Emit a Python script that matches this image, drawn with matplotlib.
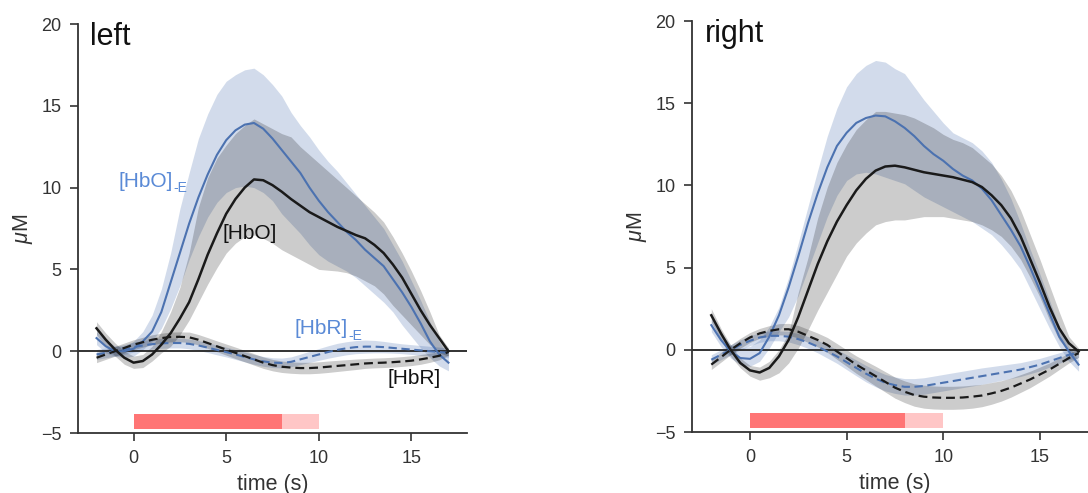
import numpy as np
import matplotlib
matplotlib.use("Agg")
import matplotlib.pyplot as plt

plt.rcParams['font.family'] = ['Liberation Sans', 'DejaVu Sans']
plt.rcParams['mathtext.fontset'] = 'custom'
plt.rcParams['mathtext.rm'] = 'Liberation Sans'
plt.rcParams['mathtext.it'] = 'Liberation Sans:italic'

# time axis (s), sampled every 0.5 s from -2 to 17
t = np.arange(-2, 17.01, 0.5)

# ---------------- LEFT hemisphere ----------------
L_hbo = [1.4, 0.7, 0.1, -0.4, -0.7, -0.6, -0.2, 0.4, 1.1, 2.0, 3.0, 4.4, 5.9, 7.2, 8.4, 9.3, 10.0, 10.5,
         10.45, 10.15, 9.75, 9.3, 8.9, 8.5, 8.2, 7.9, 7.6, 7.35, 7.1, 6.9, 6.5, 6.0, 5.3, 4.5, 3.5, 2.5, 1.6, 0.8, 0.0]
L_hbo_lo = [1.0, 0.3, -0.3, -0.8, -1.05, -1.0, -0.6, -0.1, 0.3, 1.0, 1.9, 3.0, 4.1, 5.1, 6.0, 6.6, 7.0, 7.1,
            6.9, 6.6, 6.2, 5.9, 5.6, 5.3, 5.0, 4.95, 4.9, 4.8, 4.6, 4.3, 4.0, 3.5, 2.8, 2.2, 1.6, 1.0, 0.4, -0.1, -0.3]
L_hbo_hi = [1.8, 1.1, 0.5, 0.0, -0.3, -0.2, 0.3, 1.2, 2.4, 3.9, 6.0, 8.8, 10.6, 11.8, 12.6, 13.3, 13.8, 14.2,
            13.9, 13.6, 13.3, 13.1, 12.5, 12.0, 11.5, 11.0, 10.5, 10.0, 9.5, 9.0, 8.5, 7.9, 7.0, 6.0, 4.9, 3.7, 2.4, 1.0, 0.2]
L_hboE = [0.8, 0.3, 0.0, 0.0, 0.15, 0.6, 1.2, 2.4, 4.2, 6.0, 7.8, 9.4, 10.8, 12.0, 12.9, 13.5, 13.85, 13.95,
          13.6, 13.0, 12.3, 11.6, 10.9, 10.0, 9.2, 8.5, 7.9, 7.3, 6.8, 6.2, 5.7, 5.2, 4.4, 3.6, 2.7, 1.7, 0.6, -0.2, -0.7]
L_hboE_lo = [0.4, -0.1, -0.3, -0.4, -0.3, 0.1, 0.6, 1.4, 2.6, 4.0, 5.6, 7.0, 8.2, 9.1, 9.7, 10.0, 10.1, 10.0,
             9.7, 9.2, 8.4, 7.8, 7.2, 6.5, 5.9, 5.5, 5.2, 4.9, 4.5, 4.0, 3.5, 3.0, 2.4, 1.6, 0.9, 0.2, -0.4, -0.9, -1.2]
L_hboE_hi = [1.2, 0.7, 0.3, 0.3, 0.6, 1.2, 2.2, 3.8, 6.0, 8.7, 10.9, 13.0, 14.5, 15.7, 16.5, 16.9, 17.2, 17.3,
             16.9, 16.3, 15.6, 14.6, 13.8, 13.1, 12.3, 11.6, 11.0, 10.3, 9.6, 8.9, 8.2, 7.5, 6.5, 5.5, 4.3, 3.1, 1.8, 0.6, -0.3]
L_hbr = [-0.4, -0.2, 0.0, 0.2, 0.4, 0.55, 0.7, 0.8, 0.87, 0.88, 0.85, 0.7, 0.5, 0.3, 0.1, -0.1, -0.3, -0.5,
         -0.7, -0.85, -0.95, -1.0, -1.03, -1.03, -1.0, -0.95, -0.9, -0.85, -0.8, -0.75, -0.72, -0.7, -0.67, -0.63,
         -0.58, -0.5, -0.4, -0.28, -0.05]
L_hbr_sd = [0.3, 0.3, 0.3, 0.3, 0.3, 0.3, 0.3, 0.3, 0.3, 0.3, 0.32, 0.32, 0.33, 0.33, 0.34, 0.35, 0.35, 0.35,
            0.35, 0.35, 0.35, 0.35, 0.35, 0.35, 0.35, 0.35, 0.34, 0.33, 0.32, 0.3, 0.3, 0.3, 0.3, 0.3, 0.3,
            0.3, 0.28, 0.25, 0.2]
L_hbrE = [-0.2, -0.1, 0.0, 0.1, 0.25, 0.35, 0.43, 0.48, 0.5, 0.5, 0.45, 0.35, 0.22, 0.08, -0.05, -0.2, -0.35,
          -0.5, -0.62, -0.7, -0.72, -0.65, -0.5, -0.35, -0.2, -0.05, 0.08, 0.18, 0.25, 0.28, 0.28, 0.25, 0.2,
          0.15, 0.1, 0.05, 0.0, -0.05, -0.1]
L_hbrE_sd = [0.3, 0.3, 0.3, 0.3, 0.3, 0.3, 0.3, 0.3, 0.3, 0.3, 0.3, 0.3, 0.3, 0.3, 0.3, 0.3, 0.3, 0.3,
             0.3, 0.3, 0.3, 0.3, 0.32, 0.34, 0.36, 0.38, 0.4, 0.4, 0.4, 0.4, 0.38, 0.35, 0.32, 0.3, 0.3,
             0.3, 0.3, 0.3, 0.3]

# ---------------- RIGHT hemisphere ----------------
R_hbo = [2.1, 1.0, 0.0, -0.8, -1.25, -1.38, -1.1, -0.4, 0.6, 2.0, 3.6, 5.2, 6.6, 7.8, 8.8, 9.7, 10.4, 10.9,
         11.15, 11.2, 11.1, 10.95, 10.8, 10.7, 10.6, 10.5, 10.35, 10.2, 9.9, 9.4, 8.8, 8.0, 6.9, 5.5, 4.1, 2.6,
         1.3, 0.4, -0.1]
R_hbo_lo = [1.7, 0.6, -0.4, -1.1, -1.6, -1.85, -1.7, -1.4, -0.8, 0.1, 1.2, 2.4, 3.5, 4.6, 5.7, 6.5, 7.1, 7.6,
            7.8, 7.9, 7.9, 8.0, 8.1, 8.1, 8.1, 8.0, 7.9, 7.8, 7.6, 7.3, 6.9, 6.3, 5.5, 4.4, 3.2, 1.8, 0.6, -0.1, -0.3]
R_hbo_hi = [2.5, 1.3, 0.3, -0.5, -0.95, -1.05, -0.7, 0.0, 1.0, 3.5, 5.6, 8.0, 9.9, 11.4, 12.5, 13.4, 14.0, 14.5,
            14.5, 14.4, 14.3, 14.1, 13.8, 13.5, 13.1, 12.8, 12.6, 12.3, 11.8, 11.3, 10.6, 9.7, 8.5, 7.0, 5.5, 3.9,
            2.3, 0.8, 0.1]
R_hboE = [1.5, 0.6, -0.1, -0.5, -0.55, -0.2, 0.8, 2.1, 3.8, 5.7, 7.7, 9.5, 11.1, 12.4, 13.2, 13.8, 14.1, 14.25,
          14.2, 13.9, 13.5, 13.0, 12.4, 11.9, 11.5, 11.0, 10.6, 10.3, 9.8, 9.1, 8.2, 7.3, 6.3, 5.0, 3.6, 2.2, 0.8,
          -0.1, -0.9]
R_hboE_lo = [1.1, 0.2, -0.5, -0.9, -1.0, -0.7, 0.1, 1.1, 2.0, 3.3, 4.9, 6.5, 8.1, 9.4, 10.3, 10.7, 10.8, 10.7,
             10.5, 10.3, 10.1, 9.7, 9.3, 9.0, 8.7, 8.4, 8.1, 7.8, 7.4, 7.0, 6.4, 5.7, 4.9, 3.7, 2.5, 1.3, 0.2, -0.7,
             -1.3]
R_hboE_hi = [1.9, 1.0, 0.3, 0.1, 0.2, 0.6, 1.4, 2.6, 4.4, 6.5, 8.7, 10.9, 13.0, 14.7, 16.0, 16.8, 17.3, 17.6,
             17.5, 17.1, 16.8, 16.0, 15.2, 14.5, 13.8, 13.2, 12.9, 12.6, 12.1, 11.4, 10.4, 9.2, 7.7, 6.1, 4.6, 3.0,
             1.4, 0.2, -0.6]
R_hbr = [-0.9, -0.45, 0.0, 0.4, 0.75, 1.0, 1.15, 1.25, 1.25, 1.1, 0.85, 0.6, 0.3, -0.1, -0.5, -0.9, -1.25, -1.6,
         -1.95, -2.3, -2.55, -2.75, -2.85, -2.9, -2.92, -2.92, -2.9, -2.85, -2.78, -2.65, -2.5, -2.3, -2.05, -1.8,
         -1.5, -1.2, -0.85, -0.5, -0.2]
R_hbr_sd = [0.3, 0.3, 0.3, 0.3, 0.3, 0.3, 0.32, 0.34, 0.36, 0.38, 0.4, 0.42, 0.45, 0.48, 0.5, 0.53, 0.56, 0.6,
            0.62, 0.64, 0.66, 0.68, 0.7, 0.7, 0.7, 0.7, 0.7, 0.7, 0.68, 0.66, 0.62, 0.58, 0.54, 0.5, 0.45, 0.4,
            0.35, 0.3, 0.25]
R_hbrE = [-0.6, -0.3, 0.0, 0.3, 0.55, 0.75, 0.85, 0.85, 0.8, 0.65, 0.45, 0.2, -0.1, -0.4, -0.75, -1.1, -1.45,
          -1.75, -2.0, -2.15, -2.25, -2.25, -2.2, -2.1, -2.0, -1.9, -1.8, -1.7, -1.6, -1.5, -1.4, -1.3, -1.2, -1.05,
          -0.9, -0.7, -0.5, -0.3, -0.2]
R_hbrE_sd = [0.3, 0.3, 0.3, 0.3, 0.3, 0.3, 0.3, 0.3, 0.32, 0.34, 0.36, 0.38, 0.4, 0.42, 0.45, 0.48, 0.5, 0.5,
             0.5, 0.5, 0.5, 0.5, 0.5, 0.5, 0.5, 0.5, 0.5, 0.5, 0.5, 0.48, 0.46, 0.44, 0.42, 0.4, 0.38, 0.35,
             0.32, 0.3, 0.3]

# stimulus timing (s): (start, end)
stim_on = (0, 8)
stim_post = (8, 10)

xticks = [0, 5, 10, 15]
yticks = [-5, 0, 5, 10, 15, 20]

BLUE = '#4c72b0'
BLUE_TXT = '#5a8ad6'
SPINE = '#333333'

fig = plt.figure(figsize=(10.88, 4.93), dpi=100)
axL = fig.add_axes([0.0717, 0.1217, 0.3575, 0.8296])
axR = fig.add_axes([0.636, 0.1237, 0.3731, 0.8337])


def draw(ax, hbo, hbo_lo, hbo_hi, hboE, hboE_lo, hboE_hi, hbr, hbr_sd, hbrE, hbrE_sd, title):
    hbr = np.array(hbr); hbr_sd = np.array(hbr_sd)
    hbrE = np.array(hbrE); hbrE_sd = np.array(hbrE_sd)
    ax.fill_between(t, hboE_lo, hboE_hi, color=BLUE, alpha=0.25, lw=0)
    ax.fill_between(t, hbrE - hbrE_sd, hbrE + hbrE_sd, color=BLUE, alpha=0.25, lw=0)
    ax.fill_between(t, hbo_lo, hbo_hi, color='k', alpha=0.2, lw=0)
    ax.fill_between(t, hbr - hbr_sd, hbr + hbr_sd, color='k', alpha=0.2, lw=0)
    ax.axhline(0, color='#222222', lw=1.3, zorder=1)
    ax.plot(t, hboE, color=BLUE, lw=1.5)
    ax.plot(t, hbrE, color=BLUE, lw=1.5, ls=(0, (4, 2.2)))
    ax.plot(t, hbo, color='#1a1a1a', lw=1.8)
    ax.plot(t, hbr, color='#1a1a1a', lw=1.6, ls=(0, (4, 2.2)))
    ax.broken_barh([(stim_on[0], stim_on[1] - stim_on[0])], (-4.78, 0.92), facecolors='#ff7575', lw=0)
    ax.broken_barh([(stim_post[0], stim_post[1] - stim_post[0])], (-4.78, 0.92), facecolors='#ffc6c6', lw=0)
    ax.set_xlim(-3, 18)
    ax.set_ylim(-5, 20)
    ax.set_xticks(xticks)
    ax.set_yticks(yticks)
    for s in ['top', 'right']:
        ax.spines[s].set_visible(False)
    for s in ['left', 'bottom']:
        ax.spines[s].set_color(SPINE)
        ax.spines[s].set_linewidth(1.3)
    ax.tick_params(labelsize=13, length=6, width=1.2, pad=6, colors=SPINE, labelcolor='#333333')
    ax.set_xlabel('time (s)', fontsize=15.5, color='#333333', labelpad=5)
    ax.set_ylabel(r'$\mu$M', fontsize=15.5, color='#333333', labelpad=4)
    ax.text(0.032, 1.005, title, transform=ax.transAxes, fontsize=22, va='top', ha='left', color='#111111')


draw(axL, L_hbo, L_hbo_lo, L_hbo_hi, L_hboE, L_hboE_lo, L_hboE_hi, L_hbr, L_hbr_sd, L_hbrE, L_hbrE_sd, 'left')
draw(axR, R_hbo, R_hbo_lo, R_hbo_hi, R_hboE, R_hboE_lo, R_hboE_hi, R_hbr, R_hbr_sd, R_hbrE, R_hbrE_sd, 'right')


def label(ax, x, y, main, sub, color):
    tx = ax.text(x, y, main, fontsize=15, color=color, ha='left', va='center')
    if sub:
        ax.annotate(sub, xy=(1.0, 0.12), xycoords=tx, fontsize=10, color=color,
                    ha='left', va='center')


label(axL, -0.8, 10.4, '[HbO]', '-E', BLUE_TXT)
label(axL, 4.8, 7.2, '[HbO]', None, '#111111')
label(axL, 8.7, 1.4, '[HbR]', '-E', BLUE_TXT)
label(axL, 13.7, -1.65, '[HbR]', None, '#111111')

fig.savefig('out.png', dpi=100)
